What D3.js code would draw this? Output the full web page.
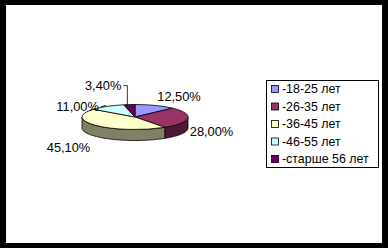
<!DOCTYPE html>
<html><head><meta charset="utf-8">
<script src="https://cdn.jsdelivr.net/npm/d3@7"></script>
<style>html,body{margin:0;padding:0;background:#000;}svg{display:block;}</style>
</head><body>
<svg id="c" width="388" height="248"></svg>
<script>
// ---- data ----
const categories = ["-18-25 лет", "-26-35 лет", "-36-45 лет", "-46-55 лет", "-старше 56 лет"];
const values = [12.5, 28.0, 45.1, 11.0, 3.4];
const valueLabels = ["12,50%", "28,00%", "45,10%", "11,00%", "3,40%"];
// ---- styles / layout ----
const topColors = ["#9999FF", "#993366", "#FFFFCC", "#CCFFFF", "#660066"];
const sideColors = ["#4D4D80", "#4D1A33", "#808066", "#668080", "#330033"];
const labelNudge = [[0, 0], [0, 2], [-2, 5], [-4, 8], [-4, -10]];

const svg = d3.select("#c");
svg.append("rect").attr("x", 6).attr("y", 5).attr("width", 376).attr("height", 238).attr("fill", "#fff");

const cx = 135, cy = 117, rx = 53, ry = 12.5, depth = 11;
const font = "Liberation Sans, Arial, sans-serif";

function stretch(t, x, k) {
  t.attr("transform", `translate(${x},0) scale(${k},1) translate(${-x},0)`);
}

const pie = d3.pie().sort(null).value(d => d)(values);
const px = a => cx + rx * Math.sin(a);
const py = a => cy - ry * Math.cos(a);

// walls (front half only: angles between PI/2 and 3PI/2)
const line = d3.line();
pie.forEach((s, i) => {
  const t0 = Math.max(s.startAngle, Math.PI / 2), t1 = Math.min(s.endAngle, 3 * Math.PI / 2);
  if (t1 <= t0) return;
  const ts = d3.range(0, 41).map(k => t0 + (t1 - t0) * k / 40);
  const pts = ts.map(t => [px(t), py(t)]).concat(ts.slice().reverse().map(t => [px(t), py(t) + depth]));
  svg.append("path").attr("d", line(pts) + "Z")
    .attr("fill", sideColors[i]).attr("stroke", "#000").attr("stroke-width", 0.8).attr("stroke-linejoin", "round");
});

// top faces
const arc = d3.arc().innerRadius(0).outerRadius(rx);
const g = svg.append("g").attr("transform", `translate(${cx},${cy}) scale(1,${ry / rx})`);
g.selectAll("path").data(pie).join("path")
  .attr("d", arc)
  .attr("fill", (d, i) => topColors[i])
  .attr("stroke", "#000").attr("stroke-width", 0.8)
  .attr("vector-effect", "non-scaling-stroke");

// labels
pie.forEach((s, i) => {
  const m = (s.startAngle + s.endAngle) / 2;
  const sn = Math.sin(m), cs = Math.cos(m);
  const ax = px(m), ay = py(m) + (cs < 0 ? depth : 0);
  const right = sn >= 0;
  let lx = ax + (right ? 2 : -4) + labelNudge[i][0];
  let ly = ay - cs * 9 + labelNudge[i][1];
  const t = svg.append("text").attr("x", lx).attr("y", ly).attr("dy", "0.35em")
    .attr("text-anchor", right ? "start" : "end")
    .attr("font-family", font).attr("font-size", 12).attr("fill", "#000")
    .text(valueLabels[i]);
  stretch(t, lx, 1.07);
  if (sn < 0 && cs > 0) {
    const ex = lx + 2;
    if (Math.abs(ly - ay) > 10) {
      const vx = Math.min(ax - 1, ex + 4);
      svg.append("path").attr("d", line([[ex, ly], [vx, ly], [vx, py(m) + 1.5]]))
        .attr("fill", "none").attr("stroke", "#000").attr("stroke-width", 0.8);
    } else {
      svg.append("path").attr("d", line([[ex, ly], [ax - 1, ay - 1]]))
        .attr("fill", "none").attr("stroke", "#000").attr("stroke-width", 0.8);
    }
  }
});

// legend
const lg = svg.append("g");
lg.append("rect").attr("x", 266.5).attr("y", 80.5).attr("width", 112).attr("height", 87)
  .attr("fill", "#fff").attr("stroke", "#000").attr("stroke-width", 1);
const ly0 = 89, lstep = 17.5;
categories.forEach((c, i) => {
  lg.append("rect").attr("x", 271.5).attr("y", ly0 + i * lstep - 3.5).attr("width", 7).attr("height", 7)
    .attr("fill", topColors[i]).attr("stroke", "#000").attr("stroke-width", 0.8);
  const t = lg.append("text").attr("x", 282).attr("y", ly0 + i * lstep).attr("dy", "0.35em")
    .attr("font-family", font).attr("font-size", 12).attr("fill", "#000").text(c);
  stretch(t, 282, 1.035);
});
</script>
</body></html>
